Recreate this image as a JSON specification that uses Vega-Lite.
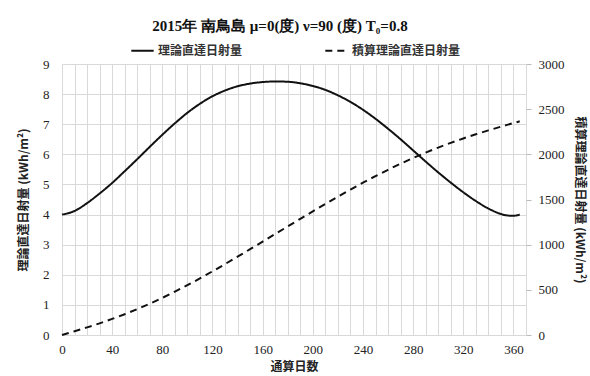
{
  "$schema": "https://vega.github.io/schema/vega-lite/v6.json",
  "width": 464,
  "height": 271,
  "autosize": {"type": "none"},
  "padding": {"left": 62, "top": 64, "right": 64, "bottom": 41},
  "background": "white",
  "config": {
    "view": {"stroke": null},
    "axis": {"labelFont": "Liberation Serif", "labelFontSize": 13, "labelColor": "#222", "titleFont": "Noto Sans CJK JP", "titleFontSize": 12, "titleFontWeight": "bold", "titleColor": "#222", "gridColor": "#d9d9d9", "domain": false}
  },
  "title": {"text": "2015年  南鳥島  μ=0(度)  ν=90 (度)  T₀=0.8", "font": "Liberation Serif", "fontSize": 15, "fontWeight": "bold", "color": "#111", "anchor": "middle", "offset": 4, "dx": -14},
  "data": {"values": [
    {"day": 0, "daily": 4.0, "cum": 0},
    {"day": 10, "daily": 4.12, "cum": 41},
    {"day": 20, "daily": 4.38, "cum": 84},
    {"day": 30, "daily": 4.7, "cum": 129},
    {"day": 40, "daily": 5.05, "cum": 178},
    {"day": 50, "daily": 5.44, "cum": 230},
    {"day": 60, "daily": 5.84, "cum": 287},
    {"day": 70, "daily": 6.25, "cum": 347},
    {"day": 80, "daily": 6.65, "cum": 411},
    {"day": 90, "daily": 7.03, "cum": 480},
    {"day": 100, "daily": 7.38, "cum": 552},
    {"day": 110, "daily": 7.68, "cum": 627},
    {"day": 120, "daily": 7.93, "cum": 705},
    {"day": 130, "daily": 8.12, "cum": 785},
    {"day": 140, "daily": 8.26, "cum": 867},
    {"day": 150, "daily": 8.35, "cum": 950},
    {"day": 160, "daily": 8.4, "cum": 1034},
    {"day": 170, "daily": 8.42, "cum": 1118},
    {"day": 180, "daily": 8.41, "cum": 1202},
    {"day": 190, "daily": 8.36, "cum": 1286},
    {"day": 200, "daily": 8.27, "cum": 1369},
    {"day": 210, "daily": 8.14, "cum": 1451},
    {"day": 220, "daily": 7.96, "cum": 1532},
    {"day": 230, "daily": 7.74, "cum": 1610},
    {"day": 240, "daily": 7.48, "cum": 1686},
    {"day": 250, "daily": 7.18, "cum": 1759},
    {"day": 260, "daily": 6.85, "cum": 1829},
    {"day": 270, "daily": 6.5, "cum": 1896},
    {"day": 280, "daily": 6.13, "cum": 1959},
    {"day": 290, "daily": 5.76, "cum": 2019},
    {"day": 300, "daily": 5.4, "cum": 2075},
    {"day": 310, "daily": 5.06, "cum": 2127},
    {"day": 320, "daily": 4.74, "cum": 2176},
    {"day": 330, "daily": 4.45, "cum": 2222},
    {"day": 340, "daily": 4.2, "cum": 2265},
    {"day": 350, "daily": 4.02, "cum": 2306},
    {"day": 355, "daily": 3.97, "cum": 2326},
    {"day": 360, "daily": 3.96, "cum": 2346},
    {"day": 365, "daily": 4.0, "cum": 2366}
  ]},
  "encoding": {
    "x": {"field": "day", "type": "quantitative", "scale": {"domain": [0, 370], "nice": false},
      "axis": {"title": "通算日数", "values": [0,10,20,30,40,50,60,70,80,90,100,110,120,130,140,150,160,170,180,190,200,210,220,230,240,250,260,270,280,290,300,310,320,330,340,350,360,370],
        "labelExpr": "datum.value % 40 === 0 && datum.value <= 360 ? datum.label : ''", "ticks": false, "labelPadding": 8, "titlePadding": 5, "labelFlush": false}}
  },
  "layer": [
    {
      "mark": {"type": "line", "color": "#111", "strokeWidth": 2, "interpolate": "monotone"},
      "encoding": {
        "y": {"field": "daily", "type": "quantitative", "scale": {"domain": [0, 9], "nice": false},
          "axis": {"title": "理論直達日射量 (kWh/m²)", "values": [0,1,2,3,4,5,6,7,8,9], "ticks": false, "labelPadding": 13, "titlePadding": 12}},
        "strokeDash": {"datum": "理論直達日射量", "type": "nominal",
          "scale": {"domain": ["理論直達日射量", "積算理論直達日射量"], "range": [[1, 0], [7, 5]]},
          "legend": {"title": null, "orient": "none", "legendX": 68, "legendY": -26, "direction": "horizontal",
            "symbolType": "stroke", "symbolSize": 500, "symbolStrokeWidth": 2, "symbolStrokeColor": "#111",
            "labelFont": "Noto Sans CJK JP", "labelFontSize": 12, "labelFontWeight": "bold", "labelColor": "#333", "columnPadding": 78, "labelOffset": 3}}
      }
    },
    {
      "mark": {"type": "line", "color": "#111", "strokeWidth": 2, "interpolate": "monotone"},
      "encoding": {
        "y": {"field": "cum", "type": "quantitative", "scale": {"domain": [0, 3000], "nice": false},
          "axis": {"orient": "right", "title": "積算理論直達日射量 (kWh/m²)", "format": "d", "values": [0,500,1000,1500,2000,2500,3000], "grid": false, "ticks": true, "tickColor": "#bbb", "tickSize": 5, "labelPadding": 7, "titlePadding": 8}},
        "strokeDash": {"datum": "積算理論直達日射量", "type": "nominal"}
      }
    }
  ],
  "resolve": {"scale": {"y": "independent"}}
}
